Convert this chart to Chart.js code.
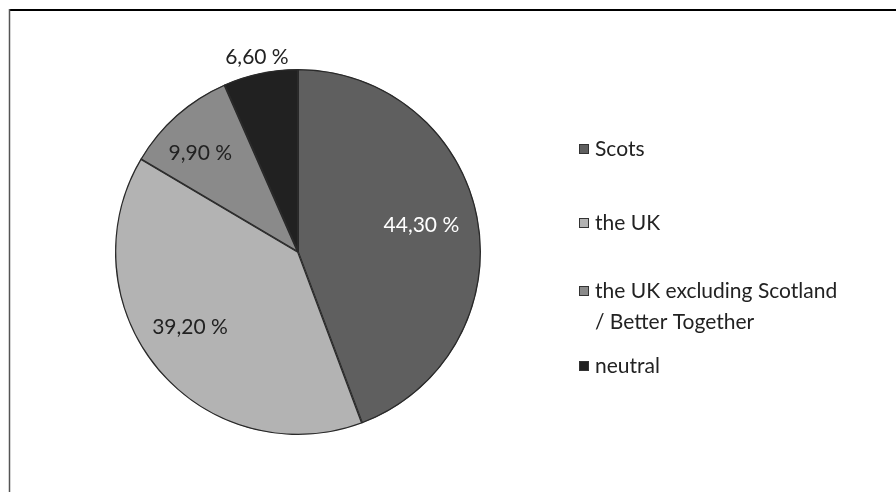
<!DOCTYPE html>
<html>
<head>
<meta charset="utf-8">
<script src="https://cdn.jsdelivr.net/npm/chart.js@4.4.1/dist/chart.umd.min.js"></script>
<style>
  html, body { margin: 0; padding: 0; background: #fff; }
  #wrap { position: relative; width: 896px; height: 492px; }
</style>
</head>
<body>
<div id="wrap"><canvas id="pie"></canvas></div>
<script>
// Who the respondents identify with (share of answers)
const categories = ['Scots', 'the UK', 'the UK excluding Scotland / Better Together', 'neutral'];
const legendLines = [['Scots'], ['the UK'], ['the UK excluding Scotland', '/ Better Together'], ['neutral']];
const shares = [44.3, 39.2, 9.9, 6.6];
const sliceColors = ['#5f5f5f', '#b3b3b3', '#8a8a8a', '#212121'];
const labelColors = ['#ffffff', '#222222', '#222222', '#222222'];

// label placement: distance from centre (in radii) and a small angle nudge (deg)
const labelRadius = [0.69, 0.72, 0.76, 1.09];
const labelNudge = [-2, 5, -3, 0];

const FONT = '21px Lato, "Open Sans", sans-serif';

function pct(v) {
  return v.toFixed(2).replace('.', ',') + ' %';
}

// frame: heavy top rule, lighter left rule
const framePlugin = {
  id: 'frame',
  beforeDraw(chart) {
    const { ctx } = chart;
    ctx.save();
    ctx.fillStyle = '#fff';
    ctx.fillRect(0, 0, chart.width, chart.height);
    ctx.strokeStyle = '#000';
    ctx.lineWidth = 2;
    ctx.beginPath();
    ctx.moveTo(9, 10);
    ctx.lineTo(chart.width, 10);
    ctx.stroke();
    ctx.strokeStyle = '#555';
    ctx.lineWidth = 1.5;
    ctx.beginPath();
    ctx.moveTo(9.5, 9);
    ctx.lineTo(9.5, chart.height);
    ctx.stroke();
    ctx.restore();
  }
};

// percentage labels placed from each arc's geometry
const sliceLabels = {
  id: 'sliceLabels',
  afterDatasetsDraw(chart) {
    const { ctx } = chart;
    const arcs = chart.getDatasetMeta(0).data;
    ctx.save();
    ctx.font = FONT;
    ctx.textAlign = 'center';
    ctx.textBaseline = 'middle';
    arcs.forEach((arc, i) => {
      const mid = (arc.startAngle + arc.endAngle) / 2 + labelNudge[i] * Math.PI / 180;
      const r = arc.outerRadius * labelRadius[i];
      ctx.fillStyle = labelColors[i];
      ctx.fillText(pct(shares[i]), arc.x + Math.cos(mid) * r, arc.y + Math.sin(mid) * r);
    });
    ctx.restore();
  }
};

// legend drawn to the right of the pie
const sideLegend = {
  id: 'sideLegend',
  afterDraw(chart) {
    const { ctx } = chart;
    const rows = [149, 223, 291, 366];
    ctx.save();
    ctx.font = FONT;
    ctx.textBaseline = 'middle';
    ctx.textAlign = 'left';
    legendLines.forEach((lines, i) => {
      const y = rows[i];
      ctx.fillStyle = sliceColors[i];
      ctx.fillRect(579, y - 5, 10, 10);
      ctx.strokeStyle = '#333';
      ctx.lineWidth = 1;
      ctx.strokeRect(579.5, y - 4.5, 9, 9);
      ctx.fillStyle = '#222';
      lines.forEach((t, k) => {
        ctx.fillText(t, 595, y + k * 31);
      });
    });
    ctx.restore();
  }
};

new Chart(document.getElementById('pie'), {
  type: 'pie',
  data: {
    labels: categories,
    datasets: [{
      data: shares,
      backgroundColor: sliceColors,
      borderColor: '#2a2a2a',
      borderWidth: 1,
      borderAlign: 'inner'
    }]
  },
  options: {
    responsive: true,
    maintainAspectRatio: false,
    animation: false,
    events: [],
    layout: { padding: { left: 115, right: 415, top: 69, bottom: 57 } },
    plugins: {
      legend: { display: false },
      tooltip: { enabled: false }
    }
  },
  plugins: [framePlugin, sliceLabels, sideLegend]
});
</script>
</body>
</html>
